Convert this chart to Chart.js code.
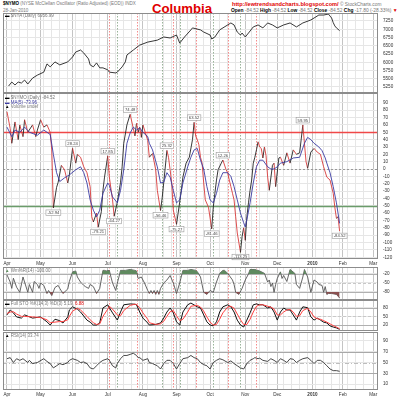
<!DOCTYPE html>
<html>
<head>
<meta charset="utf-8">
<script src="https://cdn.jsdelivr.net/npm/chart.js@4.4.1/dist/chart.umd.min.js"></script>
<style>
  body { margin: 0; width: 400px; height: 398px; background: #fff; position: relative; overflow: hidden;
         font-family: Arial, "Liberation Sans", sans-serif; }
  canvas { position: absolute; left: 0; }
  .t { position: absolute; white-space: nowrap; font-size: 4.5px; line-height: 5px; color: #777; }
  .b { font-weight: bold; color: #000; }
  .r { color: #e00000; }
</style>
</head>
<body>
<!-- en-tête -->
<div class="t" style="left:3px;top:1px"><span class="b">$NYMO</span> (NYSE McClellan Oscillator (Ratio Adjusted) (EOD)) INDX</div>
<div class="t" style="left:3px;top:8px">28-Jan-2010</div>
<div class="t r" style="left:152px;top:1.5px;font-size:13.2px;line-height:13.2px;font-weight:bold">Columbia</div>
<div class="t r b" style="left:232px;top:1px;font-size:5.6px;line-height:6px;color:#e00000">http://ewtrendsandcharts.blogspot.com/</div>
<div class="t" style="left:340px;top:1.5px;font-size:4.8px">© StockCharts.com</div>
<div class="t" style="left:231px;top:8px;font-size:4.9px"><span class="b">Open</span> -84.52 <span class="b">High</span> -84.52 <span class="b">Low</span> -84.52 <span class="b">Close</span> -84.52 <span class="b">Chg</span> -17.80 (-28.33%) <span class="r">▼</span></div>

<canvas id="c-nya" width="400" height="80" style="top:13px"></canvas>
<canvas id="c-nymo" width="400" height="174" style="top:93px"></canvas>
<canvas id="c-wr" width="400" height="33" style="top:267px"></canvas>
<canvas id="c-sto" width="400" height="31" style="top:300px"></canvas>
<canvas id="c-rsi" width="400" height="66" style="top:332px"></canvas>

<!-- légendes des panneaux -->
<div class="t" style="left:5px;top:13px"><span style="color:#000">▬</span> $NYA (Daily) 6956.99</div>
<div class="t" style="left:5px;top:95px"><span style="color:#000">▬</span> $NYMO (Daily) -84.52</div>
<div class="t" style="left:5px;top:99.5px;color:#3a3aa0">▬ MA(5) -73.96</div>
<div class="t" style="left:5px;top:104px"><span style="color:#000">▲</span> Volume undef</div>
<div class="t" style="left:5px;top:267.5px"><span style="color:#5f8f5f">▲</span> Wm%R(14) -100.00</div>
<div class="t" style="left:5px;top:301px"><span style="color:#000">▬</span> Full STO %K(14,3) %D(3) 5.19, <span class="r">6.88</span></div>
<div class="t" style="left:5px;top:333px"><span style="color:#000">▲</span> RSI(14) 33.74</div>

<script>
// --- axe du temps : index de séance (0 = 1er avril 2009) ---
const monthDays  = [0, 21, 41, 63, 85, 106, 127, 149, 169, 191, 210, 229];
const monthNames = ['Apr', 'May', 'Jun', 'Jul', 'Aug', 'Sep', 'Oct', 'Nov', 'Dec', '2010', 'Feb', 'Mar'];

// lignes de cycle (pointillés verticaux)
const redCycles   = [64, 81, 104, 118, 138, 156];
const greenCycles = [69, 97, 108, 129, 146];

// --- $NYA ---
const nyaPts = [
  [1,5280],[3,5400],[5,5310],[7,5400],[9,5370],[11,5460],[13,5340],[16,5520],[19,5610],[23,5700],
  [25,5950],[27,5860],[30,6010],[33,5920],[38,6010],[41,6160],[43,6310],[46,6370],[48,6280],[51,6100],
  [52,5920],[54,5860],[56,5980],[58,5830],[60,5830],[63,5770],[64,5700],[68,5675],[69,5700],[72,5860],
  [74,6010],[75,6220],[79,6370],[83,6520],[88,6610],[94,6670],[98,6765],[102,6735],[106,6825],[108,6580],
  [111,6765],[115,6980],[116,7040],[121,6980],[123,6915],[127,6825],[128,6705],[130,6765],[133,6980],[138,7130],
  [140,7190],[142,7130],[144,6915],[146,6825],[147,6885],[149,6765],[151,6885],[154,7070],[157,7130],[160,7040],
  [163,7190],[166,7130],[169,7040],[173,7130],[177,7190],[181,7070],[185,7190],[190,7280],[192,7340],[195,7430],
  [198,7430],[201,7460],[202,7400],[203,7340],[204,7200],[205,7100],[206,7040],[207,7000],[208,6956.99]
];

// --- $NYMO ---
const nymoPts = [
  [0,78],[2,55],[3,35],[5,64],[7,40],[8,60],[10,44],[11,67],[13,50],[16,60],[18,44],[19,53],[21,67],[23,57],
  [25,60],[27,50],[28,26],[29,-52.94],[31,-25],[32,-18],[34,5],[36,-1],[38,-19],[39,-8],[41,28.24],[43,8],
  [44,20],[46,16],[48,3],[50,-5],[52,-24],[53,-65],[54,-72],[56,-60],[57,-79.21],[59,-58],[60,-29],[61,-11],
  [63,17.85],[64,-11],[66,-42],[67,-64.27],[69,-45],[71,-18],[72,3],[73,35],[75,60],[77,74.48],[79,55],[80,45],
  [81,62],[82,50],[83,57],[84,43],[85,60],[88,39],[89,16],[91,21],[93,-1],[94,-29],[96,-56.46],[97,-40],
  [98,-19],[100,25.32],[101,16],[102,-1],[103,-19],[104,-56],[106,-75.27],[108,-45],[109,-29],[110,-11],
  [112,8],[114,16],[116,40],[117,63.52],[118,45],[119,40],[120,33],[121,16],[122,8],[123,-19],[124,-42],
  [126,-52],[128,-81.46],[129,-52],[130,-33],[131,-15],[132,-1],[134,8],[135,12.26],[137,-1],[138,-5],
  [139,-15],[140,-24],[141,-33],[142,-42],[143,-65],[144,-87],[146,-113.25],[147,-92],[148,-80],[149,-97],
  [150,-65],[151,-46],[152,-29],[153,-15],[154,8],[155,16],[156,26],[157,37],[158,30],[159,28],[160,15],
  [161,30],[162,18],[163,-11],[164,-29],[166,5],[167,8],[168,-24],[170,15],[171,16],[173,5],[175,22],
  [177,8],[179,26],[181,20],[183,22],[185,59.95],[187,10],[188,1],[190,23],[192,28],[194,23],[196,20],
  [198,3],[200,-11],[202,-15],[204,-33],[205,-52],[206,-67],[207,-65],[208,-84.52]
];
const maPts = [
  [0,57],[3,44],[5,53],[8,50],[11,57],[14,50],[19,46],[23,53],[27,47],[29,20],[31,-5],[33,-17],[36,-12],
  [39,-8],[43,-1],[46,3],[48,-5],[50,-19],[52,-42],[54,-56],[56,-65],[58,-56],[60,-33],[63,-19],[64,-22],
  [66,-38],[69,-46],[71,-29],[73,-1],[75,35],[77,49],[79,57],[81,53],[83,56],[85,50],[88,44],[89,35],
  [91,26],[94,3],[96,-19],[98,-18],[100,-5],[102,-11],[104,-29],[106,-46],[108,-42],[110,-19],[113,3],
  [115,16],[117,26],[119,28],[121,12],[123,0],[125,-24],[127,-42],[129,-46],[131,-33],[133,-15],[135,-5],
  [138,-5],[140,-10],[142,-24],[144,-42],[146,-60],[148,-73],[149,-79],[150,-69],[152,-46],[154,-19],
  [156,3],[158,12],[160,12],[163,3],[165,0],[167,0],[169,3],[171,8],[175,10],[179,15],[183,16],[186,35],
  [188,43],[190,40],[192,35],[195,30],[197,25],[199,15],[200,8],[202,-5],[204,-24],[206,-46],[207,-60],[208,-73.96]
];
// étiquettes des extrêmes : [séance, valeur, texte, au-dessus ?]
const nymoNotes = [
  [29,-52.94,'-52.94',false],[41,28.24,'28.24',true],[57,-79.21,'-79.21',false],[63,17.85,'17.85',true],
  [67,-64.27,'-64.27',false],[77,74.48,'74.48',true],[96,-56.46,'-56.46',false],[100,25.32,'25.32',true],
  [106,-75.27,'-75.27',false],[117,63.52,'63.52',true],[128,-81.46,'-81.46',false],[135,12.26,'12.26',true],
  [146,-113.25,'-113.25',false],[185,59.95,'59.95',true],[208,-84.52,'-84.52',false]
];

// --- Williams %R ---
const wrPts = [
  [0,-23],[2,-47],[3,-68],[4,-34],[6,-64],[8,-81],[10,-30],[13,-81],[14,-55],[16,-81],[17,-45],[19,-55],
  [20,-68],[21,-50],[23,-58],[25,-85],[26,-75],[28,-92],[30,-65],[32,-58],[33,-68],[35,-85],[38,-70],
  [39,-45],[41,-13],[43,-10],[44,-30],[46,-47],[48,-58],[49,-62],[51,-68],[52,-55],[54,-62],[56,-85],
  [58,-68],[60,-8],[61,-8],[62,-10],[64,-8],[65,-30],[66,-50],[68,-75],[69,-50],[70,-30],[71,-8],[74,-8],
  [77,-5],[80,-8],[81,-10],[82,-35],[84,-30],[86,-50],[88,-75],[89,-85],[90,-75],[91,-85],[92,-75],
  [93,-88],[94,-75],[95,-88],[96,-68],[98,-50],[100,-40],[102,-25],[104,-50],[106,-85],[108,-50],[110,-8],
  [113,-8],[115,-5],[118,-8],[119,-12],[121,-30],[123,-81],[125,-88],[127,-75],[129,-81],[131,-47],
  [133,-18],[135,-8],[136,-8],[138,-18],[141,-40],[142,-55],[143,-81],[145,-88],[147,-68],[149,-40],
  [151,-20],[152,-5],[155,-5],[158,-10],[161,-18],[163,-47],[164,-40],[165,-62],[166,-50],[167,-81],
  [168,-55],[169,-35],[171,-13],[172,-35],[173,-25],[175,-45],[177,-5],[180,-18],[181,-55],[183,-68],
  [185,-30],[186,-5],[188,-30],[190,-81],[192,-40],[194,-47],[195,-55],[197,-58],[198,-81],[199,-62],
  [200,-88],[201,-85],[203,-85],[206,-88],[208,-100]
];

// --- Full STO ---
const stoKPts = [
  [0,55],[2,72],[4,62],[6,48],[9,44],[11,55],[16,44],[21,48],[25,31],[27,20],[30,40],[33,35],[35,27],
  [38,48],[39,72],[41,83],[44,75],[46,65],[50,37],[52,30],[54,20],[56,20],[58,27],[60,79],[63,90],[64,80],
  [66,62],[69,37],[71,65],[73,90],[77,93],[80,92],[81,90],[83,65],[85,44],[88,27],[89,20],[93,22],[96,27],
  [98,44],[100,65],[102,79],[104,62],[106,31],[108,20],[110,65],[113,90],[115,96],[119,83],[121,79],
  [123,55],[125,31],[127,20],[129,17],[131,31],[133,65],[135,83],[138,90],[140,83],[142,65],[144,37],
  [146,20],[148,13],[150,37],[152,62],[154,90],[156,93],[158,90],[160,90],[163,79],[165,83],[167,65],
  [169,37],[171,65],[173,79],[175,72],[177,72],[179,55],[181,37],[183,65],[185,83],[188,80],[190,48],
  [192,37],[194,44],[196,37],[198,30],[200,27],[202,17],[204,13],[206,10],[208,5.19]
];
const stoDPts = [
  [0,60],[2,65],[4,66],[6,58],[9,50],[11,50],[16,48],[21,46],[25,38],[27,28],[30,30],[33,32],[35,32],
  [38,38],[39,50],[41,68],[44,78],[46,72],[50,50],[52,38],[54,28],[56,22],[58,24],[60,50],[63,75],[64,85],
  [66,75],[69,55],[71,52],[73,70],[77,88],[80,92],[81,91],[83,80],[85,62],[88,40],[89,28],[93,22],[96,24],
  [98,33],[100,50],[102,66],[104,70],[106,52],[108,35],[110,40],[113,65],[115,85],[119,88],[121,82],
  [123,68],[125,48],[127,30],[129,20],[131,22],[133,40],[135,62],[138,82],[140,85],[142,78],[144,58],
  [146,38],[148,22],[150,22],[152,40],[154,65],[156,85],[158,90],[160,90],[163,85],[165,82],[167,75],
  [169,55],[171,55],[173,65],[175,72],[177,74],[179,65],[181,50],[183,52],[185,70],[188,78],[190,65],
  [192,48],[194,42],[196,40],[198,35],[200,30],[202,24],[204,18],[206,13],[208,6.88]
];

// --- RSI(14) ---
const rsiPts = [
  [0,57],[2,59],[4,50],[6,57],[8,54],[10,57],[13,50],[14,54],[16,48],[19,50],[23,57],[25,52],[27,48],
  [29,40],[31,44],[33,48],[35,46],[38,50],[39,54],[41,57],[44,54],[46,50],[48,51],[50,48],[52,40],[54,38],
  [56,44],[58,50],[60,54],[63,57],[64,54],[66,44],[68,40],[69,48],[71,57],[73,63],[75,63],[77,65],[79,67],
  [81,63],[82,59],[83,59],[85,54],[88,57],[89,50],[91,48],[94,44],[96,38],[98,48],[100,54],[102,54],
  [104,48],[106,38],[108,48],[110,57],[113,59],[115,63],[117,59],[119,57],[121,50],[123,46],[125,44],
  [127,38],[129,50],[131,54],[133,57],[135,55],[138,50],[140,53],[142,48],[144,44],[146,40],[148,38],
  [150,48],[152,54],[154,57],[155,59],[157,57],[158,58],[160,54],[163,52],[165,57],[167,54],[169,50],
  [171,57],[173,54],[175,50],[177,57],[179,56],[181,50],[183,54],[185,57],[188,59],[190,54],[192,48],
  [194,54],[196,54],[198,50],[200,44],[202,38],[204,35],[206,35],[208,33.74]
];

// ------------------------------------------------------------------
const pts = (a) => a.map(([x, y]) => ({ x, y }));
const isMonth = (v) => monthDays.includes(v);

// grille verticale : début de mois + lundis (une séance sur cinq)
const xGrid = [...monthDays];
for (let d = 3; d < 232; d += 5) if (!monthDays.some(m => Math.abs(m - d) < 2)) xGrid.push(d);
xGrid.sort((a, b) => a - b);

const cadre = {
  id: 'cadre',
  afterDraw(chart) {
    const { ctx, chartArea: a } = chart;
    ctx.save();
    ctx.strokeStyle = '#8c8c8c';
    ctx.lineWidth = 1;
    ctx.strokeRect(a.left + 0.5, a.top + 0.5, a.right - a.left - 1, a.bottom - a.top - 1);
    ctx.restore();
  },
};

const cycles = {
  id: 'cycles',
  beforeDatasetsDraw(chart) {
    const { ctx, chartArea: a, scales: { x } } = chart;
    ctx.save();
    ctx.lineWidth = 1;
    ctx.setLineDash([1.5, 1.5]);
    const trace = (list, col) => list.forEach(d => {
      const px = Math.round(x.getPixelForValue(d)) + 0.5;
      ctx.strokeStyle = col;
      ctx.beginPath(); ctx.moveTo(px, a.top); ctx.lineTo(px, a.bottom); ctx.stroke();
    });
    trace(redCycles, 'rgba(240, 80, 80, 0.65)');
    trace(greenCycles, 'rgba(100, 140, 100, 0.65)');
    ctx.restore();
  },
};

// lignes horizontales de référence : [valeur, couleur, largeur, tirets]
const refs = {
  id: 'refs',
  beforeDatasetsDraw(chart, args, opts) {
    if (!opts.lines) return;
    const { ctx, chartArea: a, scales: { y } } = chart;
    ctx.save();
    opts.lines.forEach(([v, col, w, dash]) => {
      const py = Math.round(y.getPixelForValue(v)) + (w % 2 ? 0.5 : 0);
      ctx.strokeStyle = col; ctx.lineWidth = w; ctx.setLineDash(dash || []);
      ctx.beginPath(); ctx.moveTo(a.left, py); ctx.lineTo(a.right, py); ctx.stroke();
    });
    ctx.restore();
  },
};

// petites étiquettes encadrées sur les extrêmes
const notes = {
  id: 'notes',
  afterDatasetsDraw(chart, args, opts) {
    if (!opts.items) return;
    const { ctx, scales: { x, y } } = chart;
    ctx.save();
    ctx.font = '4.2px Arial';
    ctx.textBaseline = 'middle';
    ctx.textAlign = 'center';
    opts.items.forEach(([d, v, txt, up]) => {
      const px = x.getPixelForValue(d), py = y.getPixelForValue(v);
      const w = ctx.measureText(txt).width + 3, h = 5.5;
      const top = up ? py - h - 2 : py + 2;
      ctx.fillStyle = '#fff'; ctx.strokeStyle = '#9a9a9a'; ctx.lineWidth = 0.6;
      ctx.fillRect(px - w / 2, top, w, h); ctx.strokeRect(px - w / 2, top, w, h);
      ctx.fillStyle = '#444';
      ctx.fillText(txt, px, top + h / 2 + 0.3);
    });
    ctx.restore();
  },
};

function panneau(id, cfg) {
  return new Chart(document.getElementById(id), {
    type: 'line',
    data: { datasets: cfg.datasets },
    options: {
      responsive: false,
      animation: false,
      devicePixelRatio: 1,
      layout: { autoPadding: false, padding: { left: 3, right: 0, top: 0, bottom: 0 } },
      elements: { point: { radius: 0 }, line: { borderWidth: 1, tension: 0 } },
      plugins: {
        legend: { display: false },
        tooltip: { enabled: false },
        refs: { lines: cfg.refs },
        notes: { items: cfg.notes },
      },
      scales: {
        x: {
          type: 'linear', min: -2.5, max: 232,
          afterBuildTicks: (ax) => { ax.ticks = xGrid.map(value => ({ value })); },
          afterFit: (ax) => {
            ax.height = cfg.xLabels ? 8 : 0;
            ax.paddingLeft = ax.paddingRight = ax.paddingTop = ax.paddingBottom = 0;
          },
          ticks: {
            display: !!cfg.xLabels, autoSkip: false, maxRotation: 0, padding: 1.5, color: '#333',
            font: (c) => ({ family: 'Arial', size: 4.6, weight: c.tick && c.tick.value === 191 ? 'bold' : 'normal' }),
            callback: (v) => isMonth(v) ? monthNames[monthDays.indexOf(v)] : '',
          },
          grid: {
            drawTicks: false,
            color: (c) => c.tick && isMonth(c.tick.value) ? '#c4c4c4' : '#e6e6e6',
          },
          border: { display: false },
        },
        y: {
          position: 'right', min: cfg.min, max: cfg.max,
          afterBuildTicks: (ax) => { ax.ticks = cfg.ticks.map(value => ({ value })); },
          afterFit: (ax) => {
            ax.width = 22;
            ax.paddingLeft = ax.paddingRight = ax.paddingTop = ax.paddingBottom = 0;
          },
          ticks: {
            font: { family: 'Arial', size: 4.6 }, color: '#333', padding: 5,
            autoSkip: false, callback: (v) => String(v),
          },
          grid: { drawTicks: false, color: cfg.gridColor || '#e6e6e6' },
          border: { display: false },
        },
      },
    },
    plugins: [cycles, refs, notes, cadre],
  });
}

const range = (a, b, s) => { const r = []; for (let v = a; v <= b; v += s) r.push(v); return r; };

panneau('c-nya', {
  min: 5068, max: 7492, ticks: range(5250, 7250, 250),
  datasets: [{ data: pts(nyaPts), borderColor: '#222', borderWidth: 0.9 }],
});

panneau('c-nymo', {
  min: -122.4, max: 103.4, ticks: range(-120, 90, 10), xLabels: true,
  refs: [[50, '#f04848', 1.5], [-50, '#6a9c6a', 1.5], [0, '#999', 1, [2, 2]]],
  notes: nymoNotes,
  datasets: [
    { data: pts(maPts), borderColor: '#3b3ba3', borderWidth: 0.9 },
    {
      data: pts(nymoPts), borderColor: '#222', borderWidth: 0.9,
      segment: { borderColor: (c) => c.p1.parsed.y < c.p0.parsed.y ? '#d83a3a' : '#222' },
    },
  ],
});

panneau('c-wr', {
  min: -106.7, max: 3.3, ticks: [-80, -50, -20],
  refs: [[-20, '#b0b0b0', 1], [-80, '#b0b0b0', 1], [-50, '#c8c8c8', 1, [3, 2]]],
  datasets: [
    { data: pts(wrPts), borderWidth: 0, borderColor: 'rgba(0,0,0,0)',
      fill: { target: { value: -20 }, above: '#5f8a5f', below: 'rgba(0,0,0,0)' } },
    { data: pts(wrPts), borderWidth: 0, borderColor: 'rgba(0,0,0,0)',
      fill: { target: { value: -80 }, above: 'rgba(0,0,0,0)', below: '#8a4f4f' } },
    { data: pts(wrPts), borderColor: '#555', borderWidth: 0.9, fill: false },
  ],
});

panneau('c-sto', {
  min: -0.7, max: 106.6, ticks: [20, 50, 80],
  refs: [[80, '#b0b0b0', 1], [20, '#b0b0b0', 1], [50, '#c8c8c8', 1, [3, 2]]],
  datasets: [
    { data: pts(stoDPts), borderColor: '#ff4040', borderWidth: 1 },
    { data: pts(stoKPts), borderColor: '#111', borderWidth: 1 },
  ],
});

panneau('c-rsi', {
  min: -0.75, max: 106.3, ticks: [10, 30, 50, 70, 90], xLabels: true,
  refs: [[70, '#a8a8a8', 1], [30, '#a8a8a8', 1], [50, '#bdbdbd', 1, [4, 2, 1, 2]]],
  datasets: [{ data: pts(rsiPts), borderColor: '#333', borderWidth: 0.9 }],
});
</script>
</body>
</html>
